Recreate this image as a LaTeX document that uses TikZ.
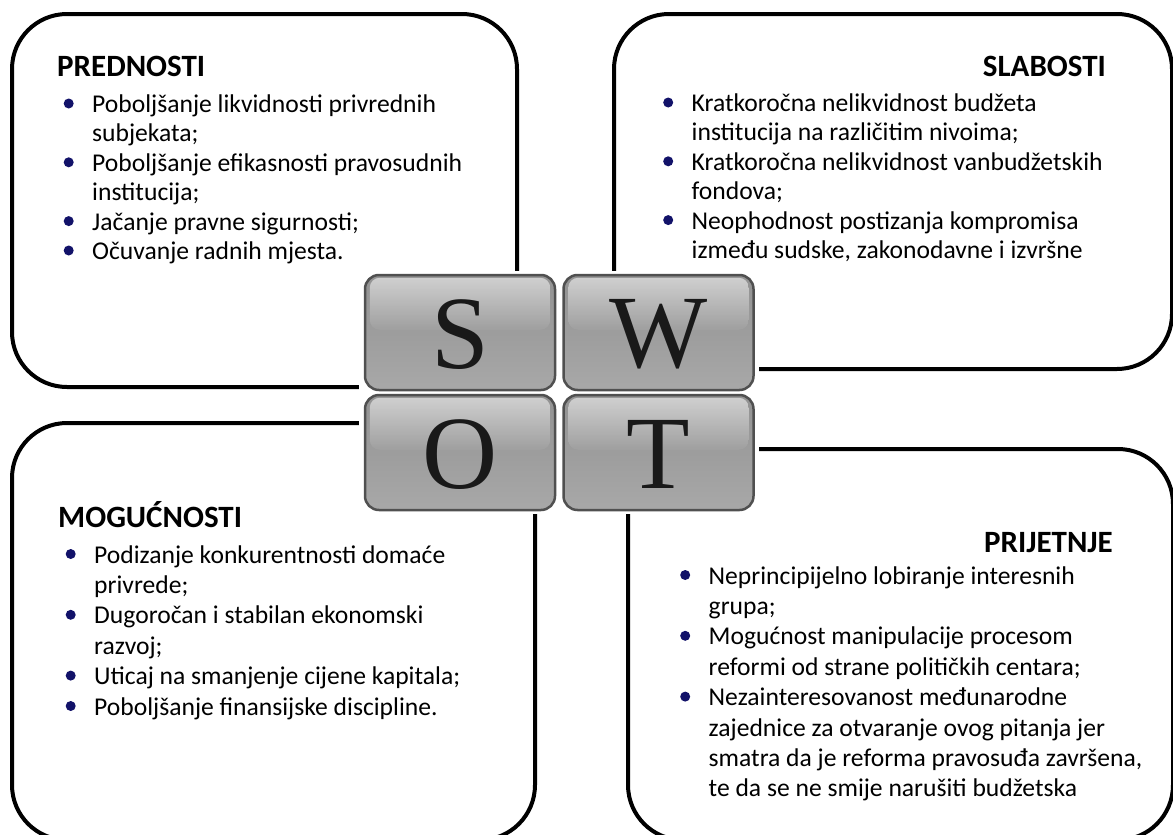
\documentclass[tikz,border=0pt]{standalone}
\usepackage{fontspec}
\setmainfont{Carlito}
\newfontfamily\tilefont{Liberation Serif}
\definecolor{bulletnavy}{RGB}{18,18,105}
\definecolor{tileedge}{RGB}{80,80,80}
\definecolor{tiletop}{RGB}{146,146,146}
\definecolor{tilebot}{RGB}{168,168,168}
\definecolor{glosstop}{RGB}{218,218,218}
\definecolor{glossbot}{RGB}{160,160,160}
\newcommand{\dotitem}{\makebox[28.5pt][l]{\tikz[baseline=-9pt]\fill[bulletnavy] (0,0) circle (5pt);}}
\tikzset{
  panel/.style={line width=4pt, rounded corners=55pt},
  heading/.style={inner sep=0pt, font=\bfseries\fontsize{31}{36}\selectfont},
  list/.style={inner sep=0pt, align=left},
  tile/.style={draw=tileedge, line width=2.5pt, rounded corners=14pt,
    minimum width=190pt, minimum height=115pt, inner sep=0pt,
    top color=tiletop, bottom color=tilebot},
  gloss/.style={rounded corners=10pt, top color=glosstop, bottom color=glossbot, opacity=.85},
  letter/.style={inner sep=0pt, text=black!90, font=\tilefont\fontsize{104}{104}\selectfont}
}
\begin{document}
\begin{tikzpicture}[x=1pt, y=-1pt]
\fill[white] (0,0) rectangle (1173,835);
\useasboundingbox (0,0) rectangle (1173,835);

\draw[panel] (12,14) rectangle (517,387);
\draw[panel] (614,14) rectangle (1172,369);
\draw[panel] (12,423) rectangle (535,840);
\draw[panel] (628,449) rectangle (1173,840);

\node[heading, anchor=base west] (prednosti) at (57,76) {PREDNOSTI};
\node[list, font=\fontsize{25.6}{29.4}\selectfont, anchor=base west] (prednosti-list) at (63.5,112.5)
{\begin{tabular}[t]{@{}l@{}l@{}}
\dotitem & Poboljšanje likvidnosti privrednih\\
 & subjekata;\\
\dotitem & Poboljšanje efikasnosti pravosudnih\\
 & institucija;\\
\dotitem & Jačanje pravne sigurnosti;\\
\dotitem & Očuvanje radnih mjesta.
\end{tabular}};

\node[heading, anchor=base east] (slabosti) at (1106,76) {SLABOSTI};
\node[list, font=\fontsize{25.6}{29.4}\selectfont, anchor=base west] (slabosti-list) at (663,111.5)
{\begin{tabular}[t]{@{}l@{}l@{}}
\dotitem & Kratkoročna nelikvidnost budžeta\\
 & institucija na različitim nivoima;\\
\dotitem & Kratkoročna nelikvidnost vanbudžetskih\\
 & fondova;\\
\dotitem & Neophodnost postizanja kompromisa\\
 & između sudske, zakonodavne i izvršne
\end{tabular}};

\node[heading, anchor=base west] (mogucnosti) at (58,527) {MOGUĆNOSTI};
\node[list, font=\fontsize{25.6}{30.4}\selectfont, anchor=base west] (mogucnosti-list) at (65.5,563)
{\begin{tabular}[t]{@{}l@{}l@{}}
\dotitem & Podizanje konkurentnosti domaće\\
 & privrede;\\
\dotitem & Dugoročan i stabilan ekonomski\\
 & razvoj;\\
\dotitem & Uticaj na smanjenje cijene kapitala;\\
\dotitem & Poboljšanje finansijske discipline.
\end{tabular}};

\node[heading, anchor=base east] (prijetnje) at (1113,552) {PRIJETNJE};
\node[list, font=\fontsize{25.6}{30.4}\selectfont, anchor=base west] (prijetnje-list) at (680,584)
{\begin{tabular}[t]{@{}l@{}l@{}}
\dotitem & Neprincipijelno lobiranje interesnih\\
 & grupa;\\
\dotitem & Mogućnost manipulacije procesom\\
 & reformi od strane političkih centara;\\
\dotitem & Nezainteresovanost međunarodne\\
 & zajednice za otvaranje ovog pitanja jer\\
 & smatra da je reforma pravosuđa završena,\\
 & te da se ne smije narušiti budžetska
\end{tabular}};

\fill[white] (359,271) rectangle (759,514);
\foreach \l/\x/\y in {S/460/332.5,W/658.5/332.5,O/460/452.5,T/658.5/452.5}
{
\node[tile] (tile\l) at (\x,\y) {};
\shade[gloss] ([shift={(6,4)}]tile\l.north west) rectangle ([shift={(-6,56)}]tile\l.north east);
\node[letter] (\l) at ([yshift=-2pt]tile\l.center) {\l};
}
\end{tikzpicture}
\end{document}
